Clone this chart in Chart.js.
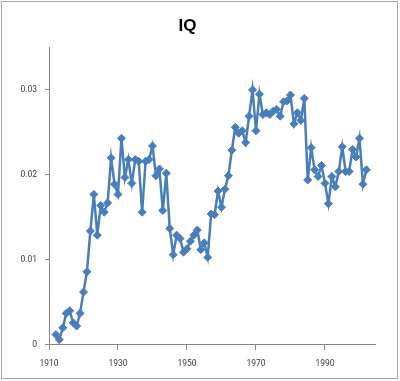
<!DOCTYPE html>
<html>
<head>
<meta charset="utf-8">
<script src="https://cdn.jsdelivr.net/npm/chart.js@4"></script>
<style>
  html, body { margin: 0; padding: 0; background: #ffffff; }
  #wrap { width: 400px; height: 381px; position: relative; }
</style>
</head>
<body>
<div id="wrap"><canvas id="c" width="400" height="381"></canvas></div>
<script>
// ---- Data ----
const title = "IQ";
const startYear = 1912;
const values = [
  0.0012, 0.0006, 0.0020, 0.0037, 0.0040, 0.0026, 0.0022, 0.0037, 0.0062, 0.0086,
  0.0134, 0.0177, 0.0129, 0.0164, 0.0156, 0.0167, 0.0220, 0.0189, 0.0177, 0.0243,
  0.0197, 0.0218, 0.0190, 0.0218, 0.0216, 0.0156, 0.0216, 0.0218, 0.0234, 0.0199,
  0.0207, 0.0158, 0.0202, 0.0137, 0.0106, 0.0129, 0.0125, 0.0109, 0.0113, 0.0122,
  0.0129, 0.0135, 0.0112, 0.0120, 0.0103, 0.0154, 0.0153, 0.0181, 0.0162, 0.0183,
  0.0199, 0.0229, 0.0256, 0.0249, 0.0252, 0.0238, 0.0269, 0.0300, 0.0252, 0.0295,
  0.0271, 0.0273, 0.0271, 0.0275, 0.0277, 0.0269, 0.0286, 0.0287, 0.0294, 0.0260,
  0.0273, 0.0264, 0.0290, 0.0194, 0.0232, 0.0206, 0.0198, 0.0211, 0.0190, 0.0166,
  0.0198, 0.0186, 0.0204, 0.0233, 0.0204, 0.0204, 0.0230, 0.0221, 0.0243, 0.0189,
  0.0206
];
const years = values.map((v, i) => startYear + i);
const xTickValues = [1910, 1930, 1950, 1970, 1990];
const yTickValues = [0, 0.01, 0.02, 0.03];

const points = years.map((y, i) => ({ x: y, y: values[i] }));

const borderPlugin = {
  id: 'outerBorder',
  beforeDraw(chart) {
    const ctx = chart.ctx;
    ctx.save();
    ctx.fillStyle = '#ffffff';
    ctx.fillRect(0, 0, chart.width, chart.height);
    ctx.strokeStyle = '#a6a6a6';
    ctx.lineWidth = 1;
    ctx.strokeRect(1.5, 1.5, 396, 377);
    ctx.restore();
  }
};

const tickFont = { family: 'Roboto, "Liberation Sans", sans-serif', size: 8.5 };

new Chart(document.getElementById('c'), {
  type: 'line',
  data: {
    datasets: [{
      label: title,
      data: points,
      borderColor: '#4A7EBB',
      backgroundColor: '#4A7EBB',
      borderWidth: 2.5,
      pointStyle: 'rectRot',
      pointRadius: 4,
      pointBorderWidth: 1,
      pointBackgroundColor: '#4A7EBB',
      pointBorderColor: '#4A7EBB',
      tension: 0,
      fill: false
    }]
  },
  options: {
    responsive: false,
    animation: false,
    devicePixelRatio: 1,
    layout: { padding: { left: 0, right: 25, top: 0, bottom: 3 } },
    plugins: {
      legend: { display: false },
      tooltip: { enabled: false },
      title: {
        display: true,
        text: title,
        color: '#000000',
        font: { family: '"Liberation Sans", Arial, sans-serif', size: 17, weight: 'bold' },
        padding: { top: 16, bottom: 11 }
      }
    },
    scales: {
      x: {
        type: 'linear',
        min: 1910,
        max: 2004.5,
        afterBuildTicks(scale) {
          scale.ticks = xTickValues.map(v => ({ value: v }));
        },
        ticks: {
          color: '#404040',
          font: tickFont,
          padding: 9,
          maxRotation: 0,
          callback: v => String(v)
        },
        grid: { drawOnChartArea: false, drawTicks: true, tickLength: 5, color: '#868686' },
        border: { display: true, color: '#868686', width: 1 }
      },
      y: {
        type: 'linear',
        min: 0,
        max: 0.035,
        afterBuildTicks(scale) {
          scale.ticks = yTickValues.map(v => ({ value: v }));
        },
        afterFit(scale) { scale.width = 49; },
        ticks: {
          color: '#404040',
          font: tickFont,
          padding: 8,
          callback: v => (v === 0 ? '0' : v.toFixed(2))
        },
        grid: { drawOnChartArea: false, drawTicks: true, tickLength: 4, color: '#868686' },
        border: { display: true, color: '#868686', width: 1 }
      }
    }
  },
  plugins: [borderPlugin]
});
</script>
</body>
</html>
